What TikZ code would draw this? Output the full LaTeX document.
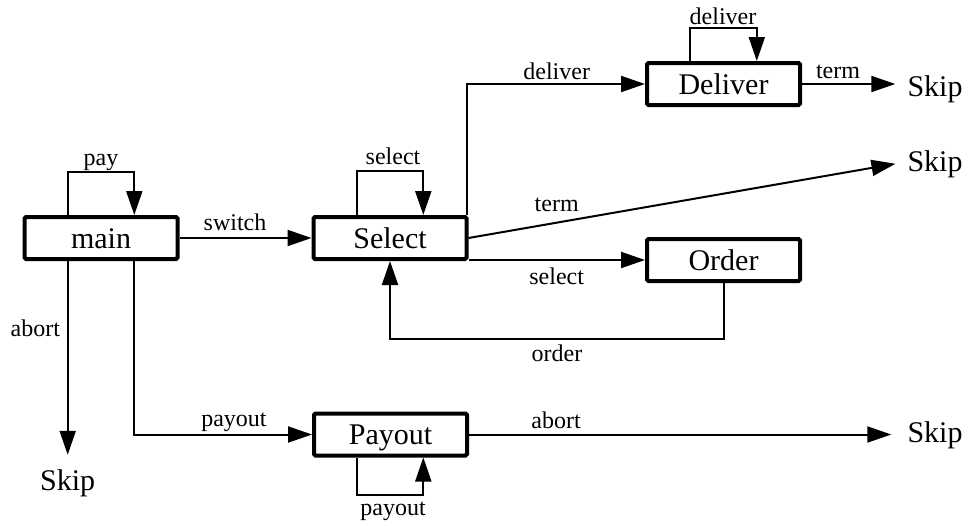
\documentclass[tikz,border=0pt]{standalone}
\usepackage{fontspec}
\setmainfont{Liberation Serif}
\usetikzlibrary{arrows.meta}
\tikzset{
  box/.style={draw, line width=4pt, rounded corners=1.5pt, minimum width=153pt,
    minimum height=42pt, inner sep=0pt, text height=20pt, text depth=0pt,
    font=\fontsize{30}{36}\selectfont},
  skipnode/.style={inner sep=0pt, text height=20pt, text depth=0pt,
    font=\fontsize{30}{36}\selectfont},
  lbl/.style={anchor=base, inner sep=0pt, font=\fontsize{24}{28}\selectfont},
  conn/.style={line width=2pt, -{Triangle[length=24pt,width=16pt]}}
}
\begin{document}
\begin{tikzpicture}[x=1pt,y=-1pt]
\useasboundingbox (0,0) rectangle (968,525);

% states
\node[box] (main) at (101,238) {main};
\node[box] (sel)  at (390,238) {Select};
\node[box] (dlv)  at (723.5,84) {Deliver};
\node[box] (ord)  at (723.5,260) {Order};
\node[box] (pay)  at (390.5,434.5) {Payout};

% terminal states
\node[skipnode] (s1) at (935,86.7) {Skip};
\node[skipnode] (s2) at (935,161.7) {Skip};
\node[skipnode] (s3) at (935,432) {Skip};
\node[skipnode] (s4) at (67.7,480) {Skip};

% transitions out of main
\draw[conn] ([xshift=-33.3pt]main.north) -- ++(0,-43) -| ([xshift=33.3pt]main.north);
\draw[conn] (main.east) -- (sel.west);
\draw[conn, shorten >=15pt] ([xshift=-33.3pt]main.south) -- (s4.north);
\draw[conn] ([xshift=33.3pt]main.south) |- (pay.west);

% transitions out of Select
\draw[conn] ([xshift=-33.3pt]sel.north) -- ++(0,-44) -| ([xshift=33.3pt]sel.north);
\draw[conn] ([xshift=-2pt]sel.north east) |- (dlv.west);
\draw[conn, shorten >=12pt] (sel.east) -- (s2.west);
\draw[conn] (ord.west -| sel.east) -- (ord.west);

% transitions out of Order and Deliver
\draw[conn] (ord.south) -- ++(0,56) -| (sel.south);
\draw[conn] ([xshift=-33.5pt]dlv.north) -- ++(0,-33) -| ([xshift=33.3pt]dlv.north);
\draw[conn, shorten >=12pt] (dlv.east) -- (dlv.east -| s1.west);

% transitions out of Payout
\draw[conn] ([xshift=-33.8pt]pay.south) -- ++(0,37) -| ([xshift=32.8pt]pay.south);
\draw[conn, shorten >=16pt] (pay.east) -- (pay.east -| s3.west);

% transition labels
\node[lbl] (l1)  at (101,165)   {pay};
\node[lbl] (l2)  at (235,230)   {switch};
\node[lbl] (l3)  at (35.3,336)  {abort};
\node[lbl] (l4)  at (234,426)   {payout};
\node[lbl] (l5)  at (393,164)   {select};
\node[lbl] (l6)  at (556.7,79)  {deliver};
\node[lbl] (l7)  at (556.7,211.7) {term};
\node[lbl] (l8)  at (556.7,284) {select};
\node[lbl] (l9)  at (557,361)   {order};
\node[lbl] (l10) at (723,24)    {deliver};
\node[lbl] (l11) at (838,78)    {term};
\node[lbl] (l12) at (393,515.7) {payout};
\node[lbl] (l13) at (556,428.3) {abort};
\end{tikzpicture}
\end{document}
